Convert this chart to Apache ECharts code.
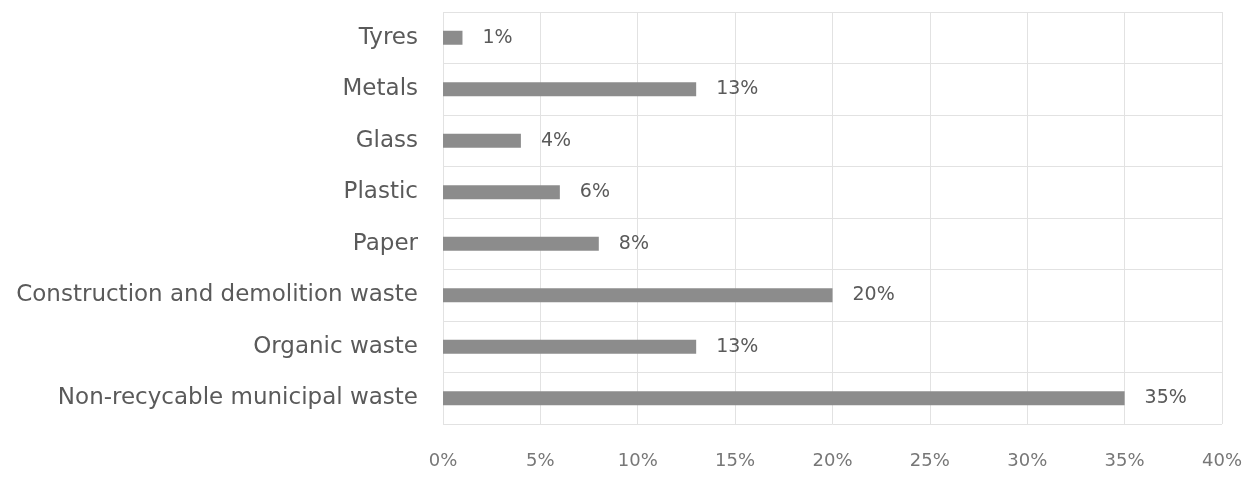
<!DOCTYPE html>
<html><head><meta charset="utf-8">
<script src="https://cdn.jsdelivr.net/npm/echarts@6/dist/echarts.min.js"></script>
<style>html,body{margin:0;padding:0;background:#fff}#c{width:1245px;height:477px}</style>
</head><body><div id="c"></div>
<script>
const categories = ["Non-recycable municipal waste","Organic waste","Construction and demolition waste","Paper","Plastic","Glass","Metals","Tyres"];
const values = [35, 13, 20, 8, 6, 4, 13, 1];
const xTicks = [0,5,10,15,20,25,30,35,40];

const chart = echarts.init(document.getElementById('c'));
chart.setOption({
  animation:false,
  grid:{left:443, right:23, top:12, bottom:53, containLabel:false},
  xAxis:{type:'value', min:0, max:40, interval:5,
    axisLine:{show:false}, axisTick:{show:false},
    axisLabel:{formatter:v=>v+'%', color:'#777', fontSize:18, fontFamily:'DejaVu Sans', margin:28},
    splitLine:{show:true, lineStyle:{color:'#e2e2e2', width:1}}},
  yAxis:{type:'category', data:categories,
    axisLine:{show:false}, axisTick:{show:false},
    axisLabel:{color:'#5a5a5a', fontSize:23, fontFamily:'DejaVu Sans', margin:25, padding:[4,0,0,0]},
    splitLine:{show:true, lineStyle:{color:'#e2e2e2', width:1}}},
  series:[{type:'bar', data:values, barWidth:14,
    itemStyle:{color:'#8c8c8c'},
    label:{show:true, position:'right', distance:20, formatter:p=>p.value+'%', color:'#5a5a5a', fontSize:19, fontFamily:'DejaVu Sans', padding:[4,0,0,0]}}]
});
</script></body></html>
